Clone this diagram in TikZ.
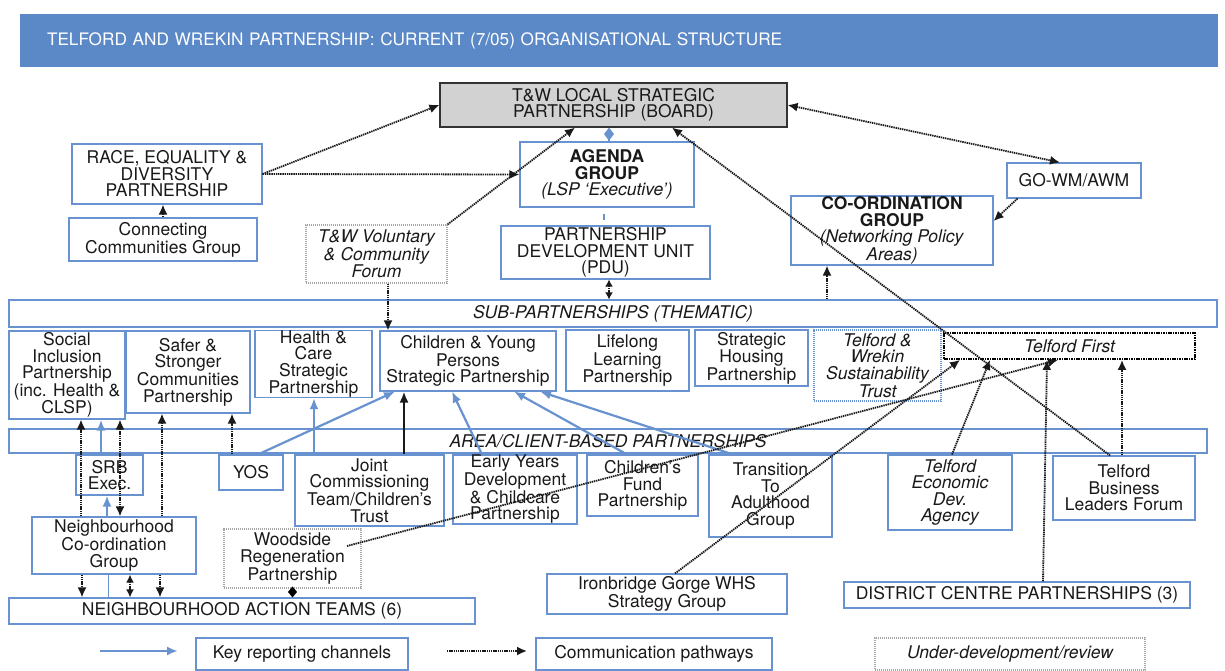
\documentclass[tikz,border=0pt]{standalone}
\usepackage{fontspec}
\setmainfont{TeX Gyre Heros}
\usetikzlibrary{arrows.meta,positioning}
\definecolor{hdrblue}{RGB}{91,136,199}
\definecolor{boxblue}{RGB}{104,146,208}
\definecolor{txtgray}{RGB}{25,25,25}
\begin{document}
\begin{tikzpicture}[x=1pt,y=-1pt,
>={Latex[length=10pt,width=9pt]},
font=\fontsize{17.5}{16.5}\selectfont,
sz/.style 2 args={minimum width=#1pt,minimum height=#2pt},
box/.style={rectangle,draw=boxblue,line width=1.1pt,align=center,text=txtgray,inner sep=0pt},
itbox/.style={box,font=\fontsize{17.5}{16.5}\selectfont\itshape},
revbox/.style={itbox,draw=gray!70,line width=1.2pt,dash pattern=on 1.2pt off 0.8pt},
com/.style={line width=1.8pt,dash pattern=on 1.4pt off 0.8pt,black!90},
key/.style={boxblue,line width=2.2pt,-{Latex[length=11pt,width=9pt]}}]
\useasboundingbox (0,0) rectangle (1225,671);
\node[fill=hdrblue,sz={1198}{53},text width=1144pt,inner xsep=27pt,align=left,text=white,
  font=\fontsize{17.2}{18}\selectfont] (title) at (619,40.5)
  {TELFORD AND WREKIN PARTNERSHIP: CURRENT (7/05) ORGANISATIONAL STRUCTURE};
% top level
\node[box,draw=black!80,fill=gray!35,line width=1.2pt,sz={347}{44}] (board) at (613.5,105)
  {T\&W LOCAL STRATEGIC\\PARTNERSHIP (BOARD)};
\node[box,sz={174}{65}] (agenda) at (607,174.5)
  {\textbf{AGENDA}\\\textbf{GROUP}\\\textit{(LSP ‘Executive’)}};
\node[box,sz={190}{60}] (race) at (167,174) {RACE, EQUALITY \&\\DIVERSITY\\PARTNERSHIP};
\node[box,sz={188}{43}] (connect) at (163,239.5) {Connecting\\Communities Group};
\node[revbox,sz={141}{58}] (forum) at (376.5,254) {T\&W Voluntary\\\& Community\\Forum};
\node[box,sz={209}{53}] (pdu) at (605.5,252.5) {PARTNERSHIP\\DEVELOPMENT UNIT\\(PDU)};
\node[box,sz={134}{35}] (gowm) at (1074,180.5) {GO-WM/AWM};
\node[box,sz={202}{69}] (coord) at (892,230.5)
  {\textbf{CO-ORDINATION}\\\textbf{GROUP}\\\textit{(Networking Policy}\\\textit{Areas)}};
% thematic
\node[itbox,sz={1208}{27}] (sub) at (613,313.5) {SUB-PARTNERSHIPS (THEMATIC)};
\node[box,sz={116}{88}] (social) at (67,375) {Social\\Inclusion\\Partnership\\(inc. Health \&\\CLSP)};
\node[box,sz={124}{82}] (safer) at (188,372) {Safer \&\\Stronger\\Communities\\Partnership};
\node[box,sz={117}{66}] (health) at (313.5,364) {Health \&\\Care\\Strategic\\Partnership};
\node[box,sz={176}{60}] (cyp) at (468,361) {Children \& Young\\Persons\\Strategic Partnership};
\node[box,sz={123}{61}] (lifelong) at (627.5,360.5) {Lifelong\\Learning\\Partnership};
\node[box,sz={113}{56}] (housing) at (751.5,358) {Strategic\\Housing\\Partnership};
\node[itbox,line width=1.4pt,dash pattern=on 1.2pt off 0.8pt,sz={127}{71}] (trust) at (877.5,365.5)
  {Telford \&\\Wrekin\\Sustainability\\Trust};
\node[itbox,draw=black,line width=1.8pt,dash pattern=on 1.6pt off 0.8pt,sz={251}{26}] (tfirst) at (1069.5,346)
  {Telford First};
% area / client based
\node[itbox,sz={1198}{24}] (area) at (608,441) {AREA/CLIENT-BASED PARTNERSHIPS};
\node[box,sz={67}{40}] (srb) at (109.5,475) {SRB\\Exec.};
\node[box,sz={64}{35}] (yos) at (251,472.5) {YOS};
\node[box,sz={149}{71}] (joint) at (369.5,490.5) {Joint\\Commissioning\\Team/Children’s\\Trust};
\node[box,sz={124}{69}] (early) at (515,489.5) {Early Years\\Development\\\& Childcare\\Partnership};
\node[box,sz={111}{61}] (cfund) at (642.5,485.5) {Children’s\\Fund\\Partnership};
\node[box,sz={123}{82}] (transition) at (770.5,496) {Transition\\To\\Adulthood\\Group};
\node[itbox,sz={124}{75}] (teda) at (950,492.5) {Telford\\Economic\\Dev.\\Agency};
\node[box,sz={142}{64}] (tblf) at (1124,488) {Telford\\Business\\Leaders Forum};
\node[box,sz={164}{57}] (ncg) at (114,545.5) {Neighbourhood\\Co-ordination\\Group};
\node[revbox,font=\fontsize{17.5}{16.5}\selectfont,sz={137}{59}] (woodside) at (292.5,558.5)
  {Woodside\\Regeneration\\Partnership};
\node[box,sz={466}{26}] (nat) at (242,611) {NEIGHBOURHOOD ACTION TEAMS (6)};
\node[box,sz={240}{40}] (iron) at (667,594) {Ironbridge Gorge WHS\\Strategy Group};
\node[box,sz={346}{26}] (dcp) at (1017,595) {DISTRICT CENTRE PARTNERSHIPS (3)};
% legend
\node[box,sz={212}{32}] (keyrep) at (302,654) {Key reporting channels};
\node[box,sz={236}{32}] (compath) at (654,654) {Communication pathways};
\node[revbox,sz={270}{32}] (underdev) at (1010,654) {Under-development/review};
\coordinate (kr1) at (100,651);
\coordinate (kr2) at (178,651);
\coordinate (cp1) at (447,651);
\coordinate (cp2) at (527,651);
\draw[key] (kr1) -- (kr2);
\draw[com,->] (cp1) -- (cp2);
% board links
\draw[boxblue,line width=1.5pt,-{Diamond[length=13pt,width=10pt]}] ([xshift=2pt]agenda.north) -- ([xshift=2pt]agenda.north |- board.south);
\draw[boxblue,line width=1.5pt] ([xshift=-3pt,yshift=-6pt]agenda.south) -- ([xshift=-1.5pt,yshift=5pt]pdu.north);
\draw[com,->] (connect.north) -- (connect.north |- race.south);
\draw[com,->] (race.east) -- (board.west);
\draw[com,->] (race.east) -- (agenda.west);
\draw[com,->] (forum.north east) -- ([xshift=-38.5pt]board.south);
\draw[com,->] ([xshift=11.5pt]forum.south) -- ([xshift=11.5pt]forum.south |- cyp.north);
\draw[com,{Latex[length=7pt,width=8pt]}-{Latex[length=7pt,width=8pt]}] ([xshift=3.5pt]pdu.south) -- ([xshift=3.5pt]pdu.south |- sub.north);
\draw[com,<->] (board.east) -- ([xshift=-14pt]gowm.north);
\draw[com,->] ([xshift=11pt]gowm.south west) -- ([yshift=9.5pt]coord.east);
\draw[com,->] ([xshift=-65pt]coord.south |- sub.north) -- ([xshift=-65pt]coord.south);
\draw[com,->] ([xshift=-14pt]tblf.north) -- ([xshift=58.5pt]board.south);
% left side
\draw[com,->] ([xshift=-33pt]ncg.north) -- ([xshift=-33pt]ncg.north |- social.south);
\draw[key] ([xshift=-8.5pt]srb.north) -- ([xshift=-8.5pt]srb.north |- social.south);
\draw[key] ([xshift=-7pt]ncg.north) -- ([xshift=-7pt]ncg.north |- srb.south);
\draw[com,<->] ([xshift=6pt]ncg.north) -- ([xshift=6pt]ncg.north |- social.south);
\draw[com,->] ([xshift=48pt]ncg.north) -- ([xshift=48pt]ncg.north |- safer.south);
\draw[com,->] ([xshift=-19pt]yos.north) -- ([xshift=-19pt]yos.north |- safer.south);
\draw[com,->] ([xshift=-32pt]ncg.south) -- ([xshift=-32pt]ncg.south |- nat.north);
\draw[boxblue,line width=1pt] ([xshift=-6pt]ncg.south) -- ([xshift=-6pt]ncg.south |- nat.north);
\draw[com,{Latex[length=8pt,width=8pt]}-{Latex[length=8pt,width=8pt]}] ([xshift=16pt]ncg.south) -- ([xshift=16pt]ncg.south |- nat.north);
\draw[com,->] ([xshift=46pt]ncg.south) -- ([xshift=46pt]ncg.south |- nat.north);
\draw[black,line width=1pt,-{Diamond[length=11pt,width=9pt]}] (woodside.south) -- (woodside.south |- nat.north);
% reporting into thematic partnerships
\draw[key] ([xshift=7pt]yos.north) -- ([xshift=-73pt]cyp.south);
\draw[key] ([xshift=-55.5pt]joint.north) -- ([xshift=-55.5pt]joint.north |- health.south);
\draw[black!90,line width=2.2pt,-{Latex[length=11pt,width=9pt]}] ([xshift=34.5pt]joint.north) -- ([xshift=34.5pt]joint.north |- cyp.south);
\draw[key] ([xshift=-33pt]early.north) -- ([xshift=-16pt]cyp.south);
\draw[key] ([xshift=-15.5pt]cfund.north) -- ([xshift=46pt]cyp.south);
\draw[key] ([xshift=-37.5pt]transition.north) -- ([xshift=72pt]cyp.south);
% into Telford First
\draw[com,->] ([xshift=54.5pt,yshift=12.5pt]woodside.center) -- ([xshift=-11.5pt]tfirst.south);
\draw[com,->] ([xshift=8pt]iron.north) -- ([xshift=-109.5pt]tfirst.south);
\draw[com,->] ([xshift=2pt]teda.north) -- ([xshift=-79.5pt]tfirst.south);
\draw[com,->] ([xshift=26pt]dcp.north) -- ([xshift=-22.5pt]tfirst.south);
\draw[com,->] ([xshift=-2pt]tblf.north) -- ([xshift=-2pt]tblf.north |- tfirst.south);
\end{tikzpicture}
\end{document}
